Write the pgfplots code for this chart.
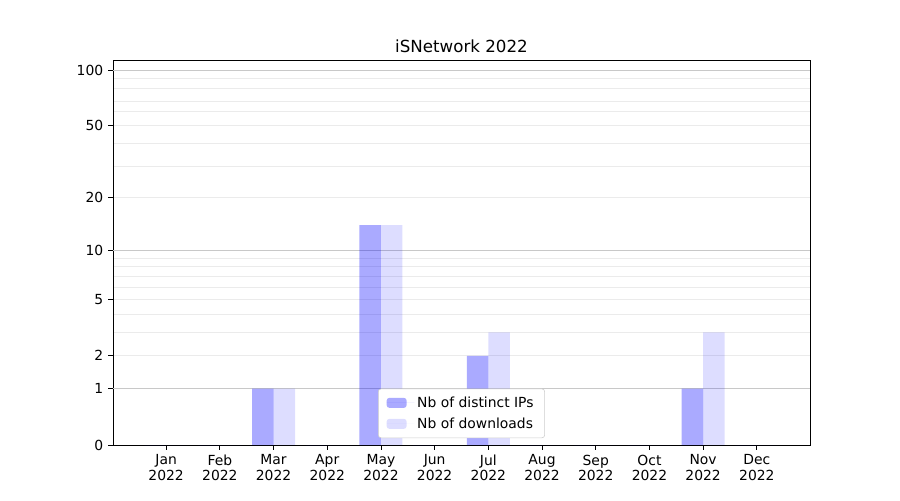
\documentclass[border=0pt]{standalone}
\usepackage{pgfplots}
\pgfplotsset{compat=1.18}
\usepackage{fontspec}
\setmainfont{DejaVu Sans}
\definecolor{majgrid}{HTML}{C8C8C8}
\definecolor{mingrid}{HTML}{EBEBEB}
\begin{document}
\begin{tikzpicture}
\path[use as bounding box] (0,0) rectangle (648pt,360pt);
\begin{axis}[
  at={(81.36pt,39.6pt)}, anchor=south west,
  scale only axis, width=501.84pt, height=277.2pt,
  /pgf/number format/assume math mode=true,
  font=\fontsize{10}{12}\selectfont,
  title={iSNetwork 2022},
  title style={font=\fontsize{12}{14}\selectfont, yshift=-4pt},
  xmin=-0.99, xmax=11.99,
  ymin=0, ymax=2.059,
  y filter/.expression={log10(y+1)},
  xtick={0,...,11},
  xticklabels={Jan\\2022,Feb\\2022,Mar\\2022,Apr\\2022,May\\2022,Jun\\2022,Jul\\2022,Aug\\2022,Sep\\2022,Oct\\2022,Nov\\2022,Dec\\2022},
  xticklabel style={align=center, font=\fontsize{10}{11}\selectfont},
  ytick={0,0.30103,0.47712,0.77815,1.04139,1.32222,1.70757,2.00432},
  yticklabels={0,1,2,5,10,20,50,100},
  minor ytick={0.47712,0.60206,0.69897,0.77815,0.84510,0.90309,0.95424,1,1.32222,1.49136,1.61278,1.70757,1.78533,1.83885,1.90849,1.95904},
  minor grid style={mingrid, line width=0.6pt},
  minor tick length=0pt,
  ymajorgrids=false,
  yminorgrids=true,
  extra y ticks={0.30103,1.04139,2.00432},
  extra y tick labels={},
  extra y tick style={grid=major, major grid style={majgrid, line width=0.8pt}, major tick length=0pt},
  tick align=outside,
  major tick length=3.5pt,
  xtick pos=bottom, ytick pos=left,
  tick style={black, line width=0.6pt},
  axis line style={line width=0.6pt},
  legend style={at={(0.5,0.018)}, anchor=south, draw=black!20, rounded corners=2pt,
    font=\fontsize{10}{12}\selectfont, row sep=2pt, inner xsep=6pt, inner ysep=3.5pt},
  legend cell align=left,
  legend image code/.code={\fill[#1] (0pt,-3.6pt) rectangle (14.4pt,3.6pt); \path (0pt,0pt) -- (20pt,0pt);},
]
\addplot[ybar, bar width=0.4, bar shift=-0.2, draw=none, fill=blue, fill opacity=0.333] coordinates {
(0,0) (1,0) (2,1) (3,0) (4,14) (5,0) (6,2) (7,0) (8,0) (9,0) (10,1) (11,0)};
\addlegendentry{Nb of distinct IPs}
\addplot[ybar, bar width=0.4, bar shift=0.2, draw=none, fill=blue, fill opacity=0.133] coordinates {
(0,0) (1,0) (2,1) (3,0) (4,14) (5,0) (6,3) (7,0) (8,0) (9,0) (10,3) (11,0)};
\addlegendentry{Nb of downloads}
\end{axis}
\end{tikzpicture}
\end{document}
